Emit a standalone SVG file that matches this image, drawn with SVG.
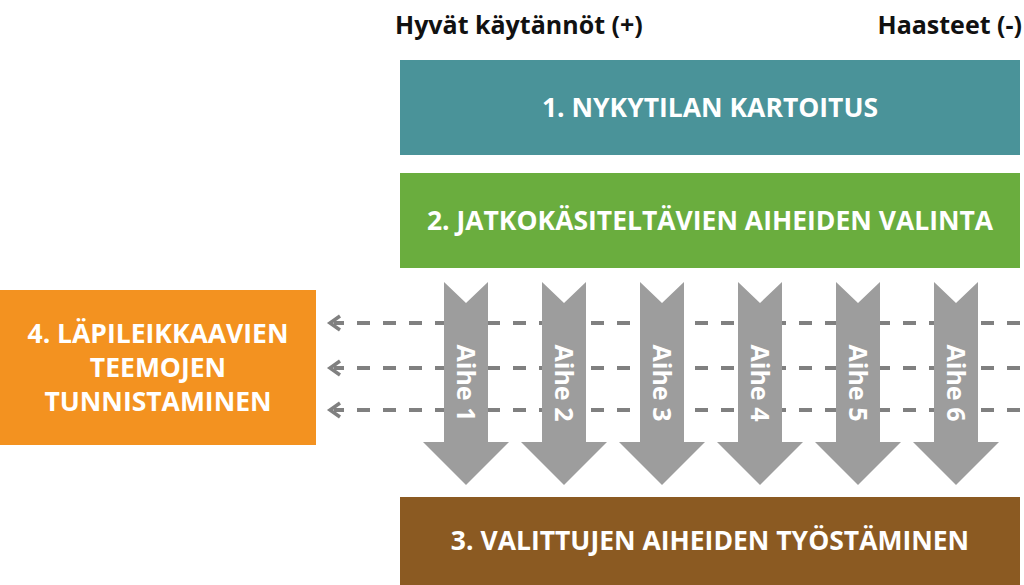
<svg xmlns="http://www.w3.org/2000/svg" width="1024" height="585" viewBox="0 0 1024 585">
<defs>
<style>
.h{font-family:"Open Sans","Liberation Sans",sans-serif;font-weight:bold;font-size:25px;fill:#111}
.b{font-family:"Open Sans","Liberation Sans",sans-serif;font-weight:bold;font-size:26.5px;fill:#fff;text-anchor:middle}
.a{font-family:"Open Sans","Liberation Sans",sans-serif;font-weight:bold;font-size:25px;fill:#fff;text-anchor:middle}
.d{stroke:#808080;stroke-width:4;stroke-dasharray:13 13;fill:none}
.ar{fill:#9d9d9d}
</style>
<path id="arr" d="M-22,282 L0,303 L22,282 L22,442 L43,442 L0,485 L-43,442 L-22,442 Z"/>
</defs>
<rect width="1024" height="585" fill="#fff"/>
<text class="h" x="395" y="34">Hyvät käytännöt (+)</text>
<text class="h" x="1022" y="34" text-anchor="end">Haasteet (-)</text>
<g id="n1"><rect x="400" y="60" width="620" height="95" fill="#4a9399"/><text class="b" x="710" y="117">1. NYKYTILAN KARTOITUS</text></g>
<g id="n2"><rect x="400" y="173" width="620" height="95" fill="#6aad3e"/><text class="b" x="710" y="230">2. JATKOKÄSITELTÄVIEN AIHEIDEN VALINTA</text></g>
<g id="n4"><rect x="0" y="290" width="316" height="155" fill="#f39220"/><text class="b" x="158" y="343">4. LÄPILEIKKAAVIEN</text><text class="b" x="158" y="377">TEEMOJEN</text><text class="b" x="158" y="411">TUNNISTAMINEN</text></g>
<g id="connectors">
<path class="d" d="M1020,323 H334 M1020,368 H334 M1020,410 H334"/>
<path d="M340,316 L330,323 L340,330 M340,361 L330,368 L340,375 M340,403 L330,410 L340,417" stroke="#808080" stroke-width="3.5" fill="none"/>
</g>
<g id="arrows">
<g transform="translate(466,0)"><use href="#arr" class="ar"/><text class="a" transform="translate(0,383) rotate(90)" y="9">Aihe 1</text></g>
<g transform="translate(564,0)"><use href="#arr" class="ar"/><text class="a" transform="translate(0,383) rotate(90)" y="9">Aihe 2</text></g>
<g transform="translate(662,0)"><use href="#arr" class="ar"/><text class="a" transform="translate(0,383) rotate(90)" y="9">Aihe 3</text></g>
<g transform="translate(760,0)"><use href="#arr" class="ar"/><text class="a" transform="translate(0,383) rotate(90)" y="9">Aihe 4</text></g>
<g transform="translate(858,0)"><use href="#arr" class="ar"/><text class="a" transform="translate(0,383) rotate(90)" y="9">Aihe 5</text></g>
<g transform="translate(956,0)"><use href="#arr" class="ar"/><text class="a" transform="translate(0,383) rotate(90)" y="9">Aihe 6</text></g>
</g>
<g id="n3"><rect x="400" y="497" width="620" height="88" fill="#8b5a22"/><text class="b" x="710" y="550">3. VALITTUJEN AIHEIDEN TYÖSTÄMINEN</text></g>
</svg>
